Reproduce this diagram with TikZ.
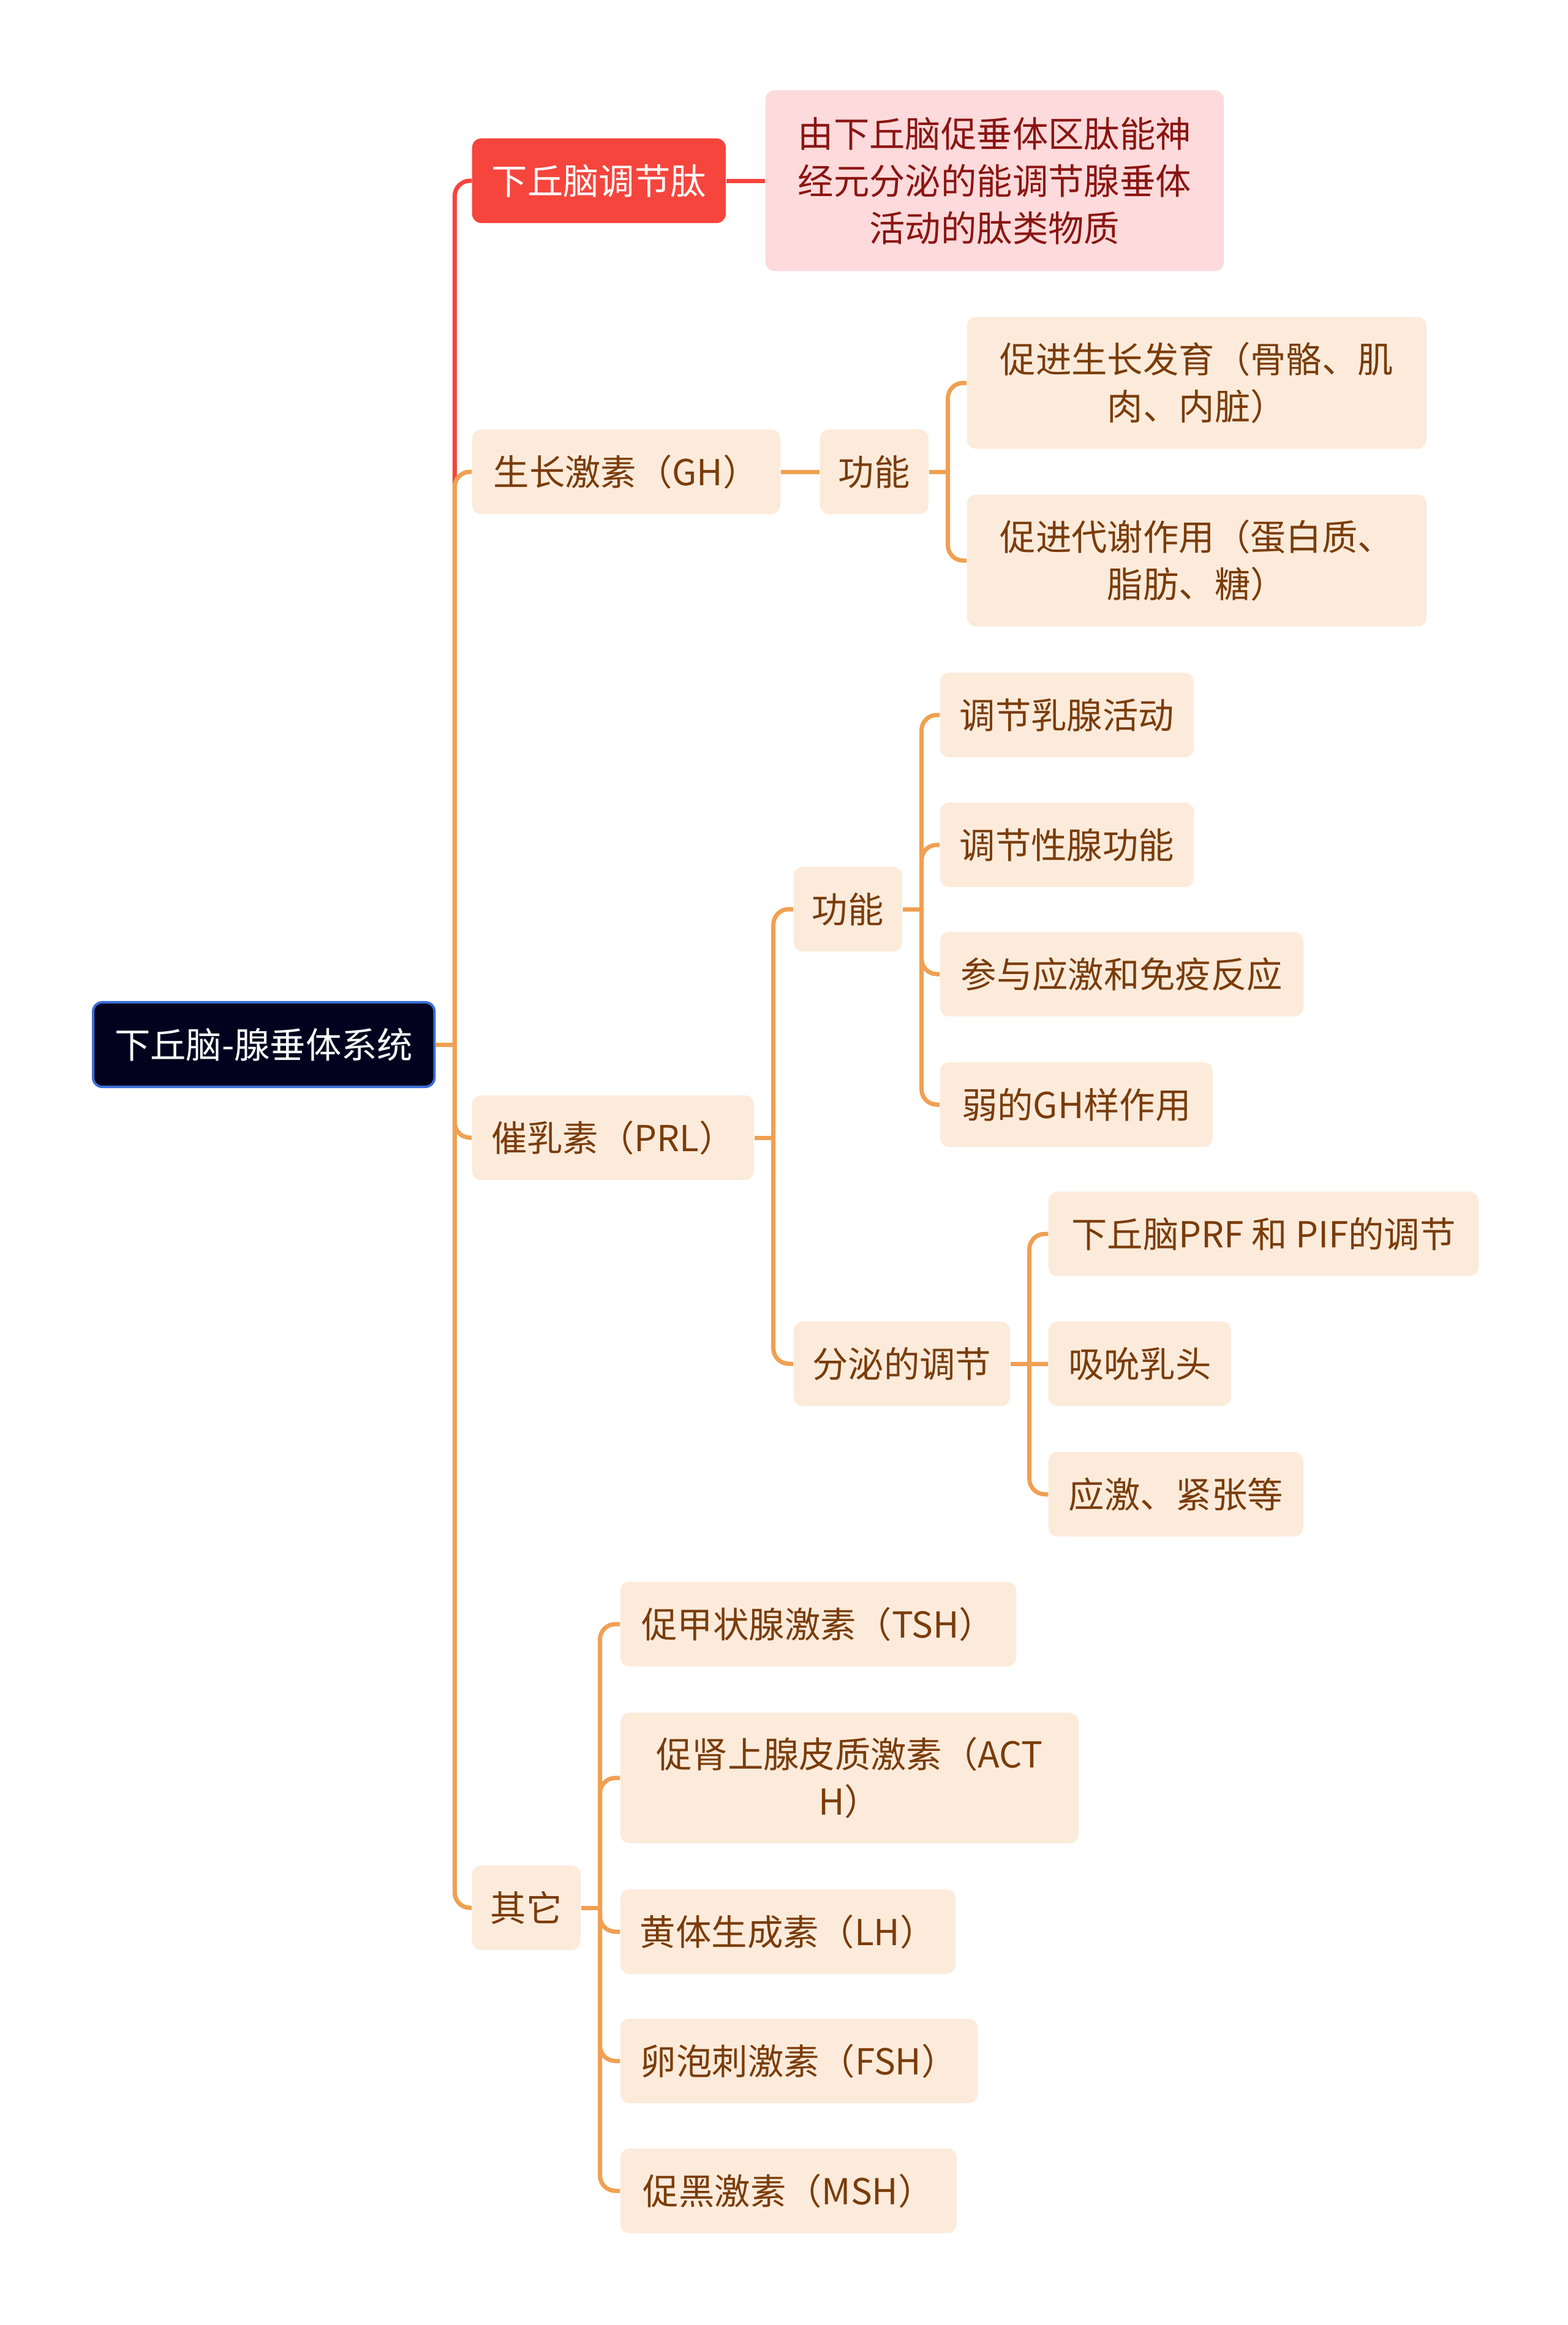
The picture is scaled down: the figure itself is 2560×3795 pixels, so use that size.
\documentclass[tikz,border=0pt]{standalone}
\usepackage{fontspec}
\setmainfont{Noto Sans CJK SC}
\definecolor{rootnavy}{HTML}{02021F}
\definecolor{rootblue}{HTML}{3A6FD8}
\definecolor{keyred}{HTML}{F5453D}
\definecolor{notepink}{HTML}{FDDADB}
\definecolor{notetext}{HTML}{8A1512}
\definecolor{topicfill}{HTML}{FCEBDB}
\definecolor{topictext}{HTML}{7A3C0A}
\definecolor{linkorange}{HTML}{F0A052}
\begin{document}
\begin{tikzpicture}[
  x=0.01cm, y=-0.01cm,
  font=\fontsize{16.6pt}{21.9pt}\selectfont,
  base/.style={rounded corners=0.15cm, minimum height=1.38cm, inner xsep=0.3cm, align=center, anchor=west},
  rootbox/.style={base, fill=rootnavy, draw=rootblue, line width=0.04cm, text=white},
  redbox/.style={base, fill=keyred, text=white},
  notebox/.style={base, fill=notepink, text=notetext},
  topic/.style={base, fill=topicfill, text=topictext},
  link/.style={draw=linkorange, line width=0.07cm, rounded corners=0.25cm},
  redlink/.style={link, draw=keyred}
]
\useasboundingbox (0,0) rectangle (2560,3795);

% root and first level
\node[rootbox, minimum width=5.57cm] (root) at (150,1705) {下丘脑-腺垂体系统};
\node[redbox, minimum width=4.14cm] (tiaojie) at (770,295) {下丘脑调节肽};
\node[topic, minimum width=5.03cm] (gh) at (770,770) {生长激素（GH）};
\node[topic, minimum width=4.6cm] (prl) at (770,1857) {催乳素（PRL）};
\node[topic, minimum width=1.77cm] (other) at (770,3114) {其它};

\node[notebox, minimum width=7.48cm, minimum height=2.95cm] (desc) at (1249,295)
  {由下丘脑促垂体区肽能神\\经元分泌的能调节腺垂体\\活动的肽类物质};

% GH
\node[topic, minimum width=1.77cm] (ghf) at (1338,770) {功能};
\node[topic, minimum width=7.5cm, minimum height=2.15cm] (gk1) at (1578,625) {促进生长发育（骨骼、肌\\肉、内脏）};
\node[topic, minimum width=7.5cm, minimum height=2.15cm] (gk2) at (1578,915) {促进代谢作用（蛋白质、\\脂肪、糖）};

% PRL
\node[topic, minimum width=1.77cm] (pf) at (1295,1484) {功能};
\node[topic, minimum width=3.53cm] (ps) at (1295,2226) {分泌的调节};
\node[topic, minimum width=4.14cm] (pf1) at (1534,1167) {调节乳腺活动};
\node[topic, minimum width=4.14cm] (pf2) at (1534,1379) {调节性腺功能};
\node[topic, minimum width=5.93cm] (pf3) at (1534,1590) {参与应激和免疫反应};
\node[topic, minimum width=4.45cm] (pf4) at (1534,1803) {弱的GH样作用};
\node[topic, minimum width=7.02cm] (ps1) at (1711,2014) {下丘脑PRF 和 PIF的调节};
\node[topic, minimum width=2.98cm] (ps2) at (1711,2226) {吸吮乳头};
\node[topic, minimum width=4.16cm] (ps3) at (1711,2439) {应激、紧张等};

% others
\node[topic, minimum width=6.46cm] (o1) at (1012,2651) {促甲状腺激素（TSH）};
\node[topic, minimum width=7.48cm, minimum height=2.13cm] (o2) at (1012,2902) {促肾上腺皮质激素（ACT\\H）};
\node[topic, minimum width=5.47cm] (o3) at (1012,3153) {黄体生成素（LH）};
\node[topic, minimum width=5.83cm] (o4) at (1012,3364) {卵泡刺激素（FSH）};
\node[topic, minimum width=5.49cm] (o5) at (1012,3576) {促黑激素（MSH）};

% connectors
\coordinate (rb) at ([xshift=0.31cm]root.east);
\draw[link] (root.east) -- (rb);
\draw[redlink] (rb) |- (tiaojie.west);
\draw[redlink] (tiaojie.east) -- (desc.west);
\foreach \n in {gh,prl,other} \draw[link] (rb) |- (\n.west);

\draw[link] (gh.east) -- (ghf.west);
\coordinate (gfb) at ([xshift=0.31cm]ghf.east);
\draw[link] (ghf.east) -- (gfb);
\foreach \n in {gk1,gk2} \draw[link] (gfb) |- (\n.west);

\coordinate (pb) at ([xshift=0.31cm]prl.east);
\draw[link] (prl.east) -- (pb);
\foreach \n in {pf,ps} \draw[link] (pb) |- (\n.west);

\coordinate (pfb) at ([xshift=0.31cm]pf.east);
\draw[link] (pf.east) -- (pfb);
\foreach \n in {pf1,pf2,pf3,pf4} \draw[link] (pfb) |- (\n.west);

\coordinate (psb) at ([xshift=0.31cm]ps.east);
\draw[link] (ps.east) -- (psb);
\foreach \n in {ps1,ps3} \draw[link] (psb) |- (\n.west);
\draw[link] (psb) -- (ps2.west);

\coordinate (ob) at ([xshift=0.31cm]other.east);
\draw[link] (other.east) -- (ob);
\foreach \n in {o1,o2,o3,o4,o5} \draw[link] (ob) |- (\n.west);
\end{tikzpicture}
\end{document}
